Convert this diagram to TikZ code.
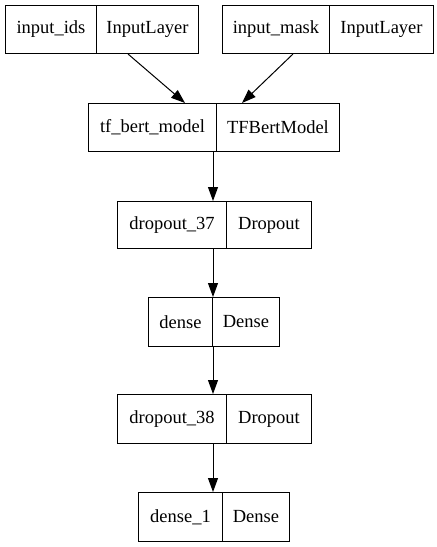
\documentclass[tikz,border=0pt]{standalone}
\usepackage{fontspec}
\setmainfont{Liberation Serif}
\newfontfamily\dfont{Liberation Serif}
\usetikzlibrary{arrows.meta,calc}
\begin{document}
\begin{tikzpicture}[x=1pt,y=-1pt,
  cell/.style={draw, line width=1pt, inner sep=0pt, anchor=north west, font=\dfont\fontsize{18.5}{20}\selectfont},
  conn/.style={line width=1pt, -{Triangle[length=14pt,width=10pt]}}]
\useasboundingbox (0,0) rectangle (437,547);
% row 1
\node[cell, minimum width=91pt, minimum height=48pt] (ida) at (5,5) {input\_ids};
\node[cell, minimum width=102pt, minimum height=48pt] (idb) at (96,5) {InputLayer};
\node[cell, minimum width=107pt, minimum height=48pt] (ma) at (222,5) {input\_mask};
\node[cell, minimum width=104pt, minimum height=48pt] (mb) at (329,5) {InputLayer};
% tf bert
\node[cell, minimum width=128pt, minimum height=48pt] (ta) at (88,103) {tf\_bert\_model};
\node[cell, minimum width=123pt, minimum height=48pt] (tb) at (216,103) {TFBertModel};
% dropout_37
\node[cell, minimum width=109pt, minimum height=47pt] (d1a) at (117,201) {dropout\_37};
\node[cell, minimum width=85pt, minimum height=47pt] (d1b) at (226,201) {Dropout};
% dense
\node[cell, minimum width=64pt, minimum height=49pt] (ea) at (148,297) {dense};
\node[cell, minimum width=67pt, minimum height=49pt] (eb) at (212,297) {Dense};
% dropout_38
\node[cell, minimum width=109pt, minimum height=49pt] (d2a) at (117,394) {dropout\_38};
\node[cell, minimum width=85pt, minimum height=49pt] (d2b) at (226,394) {Dropout};
% dense_1
\node[cell, minimum width=84pt, minimum height=49pt] (fa) at (138,492) {dense\_1};
\node[cell, minimum width=67pt, minimum height=49pt] (fb) at (222,492) {Dense};
% connectors
\draw[conn] ([xshift=32pt]idb.south west) -- ([xshift=97pt]ta.north west);
\draw[conn] ([xshift=-36pt]mb.south west) -- ([xshift=26pt]tb.north west);
\draw[conn] ([xshift=-3pt]tb.south west) -- ([xshift=-13pt]d1b.north west);
\draw[conn] ([xshift=-13pt]d1b.south west) -- ([xshift=1pt]eb.north west);
\draw[conn] ([xshift=1pt]eb.south west) -- ([xshift=-13pt]d2b.north west);
\draw[conn] ([xshift=-13pt]d2b.south west) -- ([xshift=-9pt]fb.north west);
\end{tikzpicture}
\end{document}
